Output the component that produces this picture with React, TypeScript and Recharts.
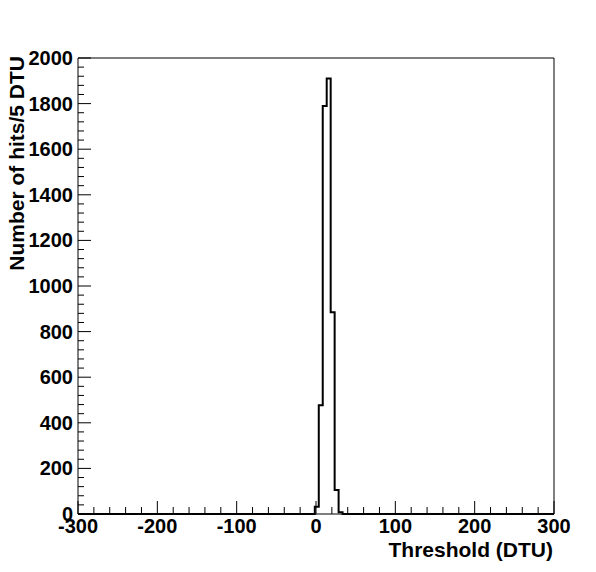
import { ComposedChart, Line, XAxis, YAxis, ReferenceArea, Label } from "recharts";

// histogram bins (centre, 5 DTU wide)
const binCenters = [1, 6, 11, 16, 21, 26, 31];
const hitCounts = [32, 477, 1790, 1910, 885, 105, 8];
const binWidth = 5;

const xRange = [-300, 300];
const yRange = [0, 2000];
const xMajorTicks = [-300, -200, -100, 0, 100, 200, 300];
const yMajorTicks = [0, 200, 400, 600, 800, 1000, 1200, 1400, 1600, 1800, 2000];
const xMinorStep = 20;
const yMinorStep = 40;

const xTicks: number[] = [];
for (let v = xRange[0]; v <= xRange[1]; v += xMinorStep) xTicks.push(v);
const yTicks: number[] = [];
for (let v = yRange[0]; v <= yRange[1]; v += yMinorStep) yTicks.push(v);

// outline of the histogram as step points at the bin edges
const outline: { x: number; y: number }[] = [{ x: xRange[0], y: 0 }];
binCenters.forEach((c, i) => outline.push({ x: c - binWidth / 2, y: hitCounts[i] }));
outline.push({ x: binCenters[binCenters.length - 1] + binWidth / 2, y: 0 });
outline.push({ x: xRange[1], y: 0 });

const font = "'Liberation Sans', Arial, Helvetica, sans-serif";

const XTick = (props: any) => {
  const { x, y, payload } = props;
  const major = xMajorTicks.includes(payload.value);
  return (
    <g>
      <line x1={x} x2={x} y1={y} y2={y - (major ? 13 : 7)} stroke="#000" strokeWidth={1} />
      {major && (
        <text x={x} y={y + 19} textAnchor="middle" fontFamily={font} fontWeight="bold" fontSize={20} fill="#000">
          {payload.value}
        </text>
      )}
    </g>
  );
};

const YTick = (props: any) => {
  const { x, y, payload } = props;
  const major = yMajorTicks.includes(payload.value);
  return (
    <g>
      <line x1={x} x2={x + (major ? 13 : 6)} y1={y} y2={y} stroke="#000" strokeWidth={1} />
      {major && (
        <text x={x - 5} y={y + 7} textAnchor="end" fontFamily={font} fontWeight="bold" fontSize={20} fill="#000">
          {payload.value}
        </text>
      )}
    </g>
  );
};

export default function App() {
  return (
    <div style={{ position: "absolute", left: 0, top: 0, width: 596, height: 572, background: "#fff" }}>
      <ComposedChart
        width={596}
        height={572}
        data={outline}
        margin={{ top: 58, right: 42, bottom: 0, left: 8 }}
      >
        <XAxis
          dataKey="x"
          type="number"
          domain={xRange}
          ticks={xTicks}
          interval={0}
          tickSize={0}
          tickMargin={0}
          tickLine={false}
          axisLine={false}
          height={58}
          tick={<XTick />}
        >
          <Label
            content={({ viewBox }: any) => (
              <text
                x={viewBox.x + viewBox.width - 1}
                y={viewBox.y + 43}
                textAnchor="end"
                fontFamily={font}
                fontWeight="bold"
                fontSize={21}
                fill="#000"
              >
                Threshold (DTU)
              </text>
            )}
          />
        </XAxis>
        <YAxis
          type="number"
          domain={yRange}
          ticks={yTicks}
          interval={0}
          tickSize={0}
          tickMargin={0}
          tickLine={false}
          axisLine={false}
          width={70}
          tick={<YTick />}
        >
          <Label
            content={({ viewBox }: any) => (
              <text
                x={24}
                y={viewBox.y - 2}
                transform={`rotate(-90, 24, ${viewBox.y - 2})`}
                textAnchor="end"
                fontFamily={font}
                fontWeight="bold"
                fontSize={21}
                fill="#000"
              >
                Number of hits/5 DTU
              </text>
            )}
          />
        </YAxis>
        <ReferenceArea x1={xRange[0]} x2={xRange[1]} y1={yRange[0]} y2={yRange[1]} fill="none" stroke="#000" strokeWidth={1} />
        <Line
          type="stepAfter"
          dataKey="y"
          stroke="#000"
          strokeWidth={2}
          dot={false}
          activeDot={false}
          isAnimationActive={false}
        />
      </ComposedChart>
    </div>
  );
}
